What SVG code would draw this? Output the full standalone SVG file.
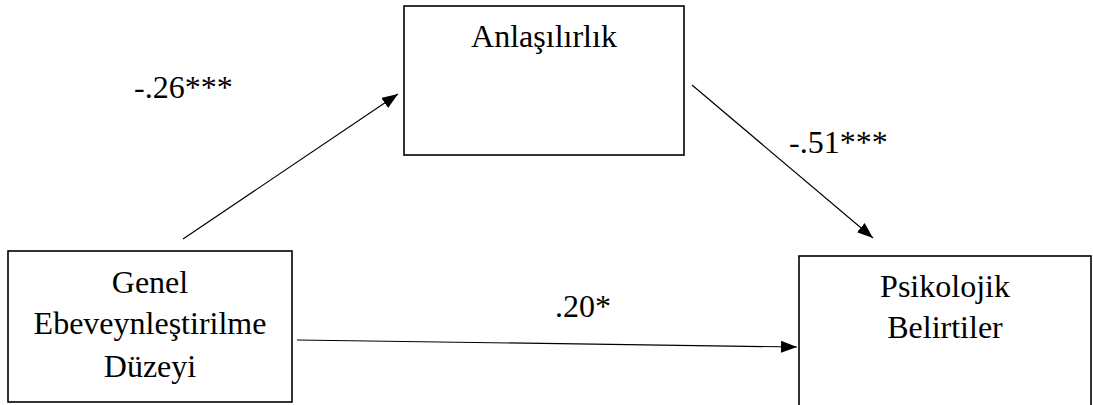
<svg xmlns="http://www.w3.org/2000/svg" width="1093" height="405" viewBox="0 0 1093 405">
  <style>
    .box { fill: #ffffff; stroke: #000000; stroke-width: 1.6; }
    .lbl { font-family: "Liberation Serif", "Times New Roman", serif; font-size: 32px; fill: #000000; }
    .mid { text-anchor: middle; }
    .edge { stroke: #000000; stroke-width: 1.2; fill: none; marker-end: url(#arr); }
  </style>
  <defs>
    <marker id="arr" markerWidth="16" markerHeight="12" refX="16" refY="6" orient="auto" markerUnits="userSpaceOnUse">
      <path d="M0,0 L16,6 L0,12 Z" fill="#000000"/>
    </marker>
  </defs>
  <rect width="1093" height="405" fill="#ffffff"/>

  <g id="connectors">
    <line class="edge" x1="183" y1="239" x2="398" y2="94"/>
    <line class="edge" x1="692" y1="85" x2="873" y2="238"/>
    <line class="edge" x1="297" y1="340" x2="797" y2="347"/>
  </g>

  <g id="node-anlasilirlik">
    <rect class="box" x="404" y="6" width="280" height="149"/>
    <text class="lbl mid" x="544" y="47">Anlaşılırlık</text>
  </g>

  <g id="node-genel">
    <rect class="box" x="8" y="251" width="284" height="151"/>
    <text class="lbl mid" x="150" y="293">Genel</text>
    <text class="lbl mid" x="150" y="334">Ebeveynleştirilme</text>
    <text class="lbl mid" x="150" y="377">Düzeyi</text>
  </g>

  <g id="node-psikolojik">
    <rect class="box" x="799" y="256" width="292" height="160"/>
    <text class="lbl mid" x="945" y="297">Psikolojik</text>
    <text class="lbl mid" x="945" y="338">Belirtiler</text>
  </g>

  <g id="edge-labels">
    <text class="lbl" x="134" y="98">-.26***</text>
    <text class="lbl" x="789" y="153">-.51***</text>
    <text class="lbl" x="555" y="317">.20*</text>
  </g>
</svg>
